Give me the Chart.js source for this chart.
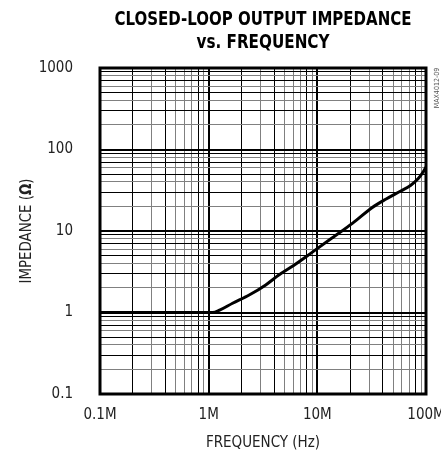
<!DOCTYPE html>
<html lang="en">
<head>
    <meta charset="UTF-8">
    <title>Closed-Loop Output Impedance vs. Frequency</title>
    <style>
        body { margin: 0; background: #fff; }
        canvas { display: block; }
    </style>
</head>
<body>
    <canvas id="impChart" width="441" height="452"></canvas>

    <script src="https://cdn.jsdelivr.net/npm/chart.js"></script>

<script>
    // Data (frequency in MHz, impedance in ohms)
    const freqMHz   = [0.1, 0.5, 1.0, 1.09, 1.26, 1.66, 2.36, 3.35, 4.42, 6.05, 9.2, 13.9, 21, 31.6, 43, 58.6, 72, 84.9, 94, 100];
    const impedance = [1.0, 1.0, 1.0, 1.0, 1.07, 1.30, 1.64, 2.18, 2.88, 3.78, 5.62, 8.34, 12.4, 19.2, 24.7, 31, 36.2, 44, 53, 61];

    // Tick labels
    const xTickValues = [0.1, 1, 10, 100];
    const xTickLabels = ['0.1M', '1M', '10M', '100M'];
    const yTickValues = [0.1, 1, 10, 100, 1000];
    const yTickLabels = ['0.1', '1', '10', '100', '1000'];

    const titleLines = ['CLOSED-LOOP OUTPUT IMPEDANCE', 'vs. FREQUENCY'];
    const partNumber = 'MAX4012-09';

    const narrow = '"Liberation Sans Narrow", "DejaVu Sans Condensed", "Liberation Sans", sans-serif';

    // full log grid: 1..9 in each decade
    function logTicks(decades) {
        let out = [];
        for (let i = 0; i < decades.length - 1; i++) {
            for (let m = 1; m <= 9; m++) out.push(decades[i] * m);
        }
        out.push(decades[decades.length - 1]);
        return out.map(v => ({ value: v }));
    }

    function mantissa(v) {
        let e = Math.floor(Math.log10(v) + 1e-9);
        return Math.round(v / Math.pow(10, e));
    }

    function labelFor(values, labels, v) {
        for (let i = 0; i < values.length; i++) {
            if (Math.abs(v - values[i]) / values[i] < 1e-6) return labels[i];
        }
        return '';
    }

    // draw text squeezed horizontally to a given width (the original uses a narrow face)
    function squeezedText(c, text, x, y, width) {
        const w = c.measureText(text).width;
        const s = Math.min(1, width / w);
        c.save();
        c.translate(x, y);
        c.scale(s, 1);
        c.fillText(text, 0, 0);
        c.restore();
    }

    // title, frame, part number and y title (with bold omega)
    const decorations = {
        id: 'decorations',
        afterDraw(chart) {
            const c = chart.ctx;
            const a = chart.chartArea;
            c.save();
            // frame
            c.strokeStyle = '#000';
            c.lineWidth = 3;
            c.strokeRect(a.left, a.top, a.right - a.left, a.bottom - a.top);

            // title
            const cx = (a.left + a.right) / 2;
            c.fillStyle = '#000';
            c.font = 'bold 20px ' + narrow;
            c.textAlign = 'center';
            c.textBaseline = 'middle';
            squeezedText(c, titleLines[0], cx, 20, 297);
            squeezedText(c, titleLines[1], cx, 43, 133);

            // part number, rotated
            c.save();
            c.translate(437, 88);
            c.rotate(-Math.PI / 2);
            c.font = '7px ' + narrow;
            c.fillStyle = '#555';
            c.fillText(partNumber, 0, 0);
            c.restore();

            // y axis title
            c.save();
            c.translate(27, (a.top + a.bottom) / 2);
            c.rotate(-Math.PI / 2);
            c.textAlign = 'left';
            c.fillStyle = '#222';
            const p1 = 'IMPEDANCE (', p2 = 'Ω', p3 = ')';
            c.font = '15px ' + narrow;
            const w1 = c.measureText(p1).width, w3 = c.measureText(p3).width;
            c.font = 'bold 15px ' + narrow;
            const w2 = c.measureText(p2).width;
            const total = w1 + w2 + w3;
            const s = Math.min(1, 105 / total);
            c.scale(s, 1);
            let x = -total / 2;
            c.font = '15px ' + narrow;
            c.fillText(p1, x, 0);
            c.font = 'bold 15px ' + narrow;
            c.fillText(p2, x + w1, 0);
            c.font = '15px ' + narrow;
            c.fillText(p3, x + w1 + w2, 0);
            c.restore();

            c.restore();
        }
    };

    const ctx = document.getElementById('impChart').getContext('2d');
    let impChart = new Chart(ctx, {
        type: 'line',
        data: {
            datasets: [{
                label: 'Impedance',
                data: freqMHz.map((f, i) => ({ x: f, y: impedance[i] })),
                borderColor: '#000',
                borderWidth: 3,
                pointRadius: 0,
                cubicInterpolationMode: 'monotone',
                fill: false
            }]
        },
        options: {
            responsive: false,
            animation: false,
            layout: {
                autoPadding: false,
                padding: { top: 68, right: 15, left: 0, bottom: 0 }
            },
            plugins: {
                legend: { display: false },
                title: { display: false },
                tooltip: { enabled: false }
            },
            scales: {
                x: {
                    type: 'logarithmic',
                    min: 0.1,
                    max: 100,
                    afterBuildTicks: scale => { scale.ticks = logTicks(xTickValues); },
                    afterFit: scale => {
                        scale.height = 58;
                        scale.paddingLeft = 0;
                        scale.paddingRight = 0;
                    },
                    border: { display: false },
                    grid: {
                        drawTicks: false,
                        color: c => {
                            const m = mantissa(c.tick.value);
                            return (m === 1 || m === 2 || m === 4 || m === 8) ? '#000' : '#808080';
                        },
                        lineWidth: c => mantissa(c.tick.value) === 1 ? 2 : 1
                    },
                    ticks: {
                        autoSkip: false,
                        maxRotation: 0,
                        padding: 12,
                        color: '#222',
                        font: { family: narrow, size: 15 },
                        callback: v => labelFor(xTickValues, xTickLabels, v)
                    },
                    title: {
                        display: true,
                        text: 'FREQUENCY (Hz)',
                        color: '#222',
                        font: { family: narrow, size: 15 },
                        padding: { top: 4, bottom: 0 }
                    }
                },
                y: {
                    type: 'logarithmic',
                    min: 0.1,
                    max: 1000,
                    afterBuildTicks: scale => { scale.ticks = logTicks(yTickValues); },
                    afterFit: scale => {
                        scale.width = 100;
                        scale.paddingTop = 0;
                        scale.paddingBottom = 0;
                    },
                    border: { display: false },
                    grid: {
                        drawTicks: false,
                        color: c => {
                            const m = mantissa(c.tick.value);
                            return (m === 1 || m % 2 === 1) ? '#000' : '#808080';
                        },
                        lineWidth: c => mantissa(c.tick.value) === 1 ? 2 : 1
                    },
                    ticks: {
                        autoSkip: false,
                        padding: 27,
                        color: '#222',
                        font: { family: narrow, size: 15 },
                        callback: v => labelFor(yTickValues, yTickLabels, v)
                    }
                }
            }
        },
        plugins: [decorations]
    });
</script>
</body>
</html>
